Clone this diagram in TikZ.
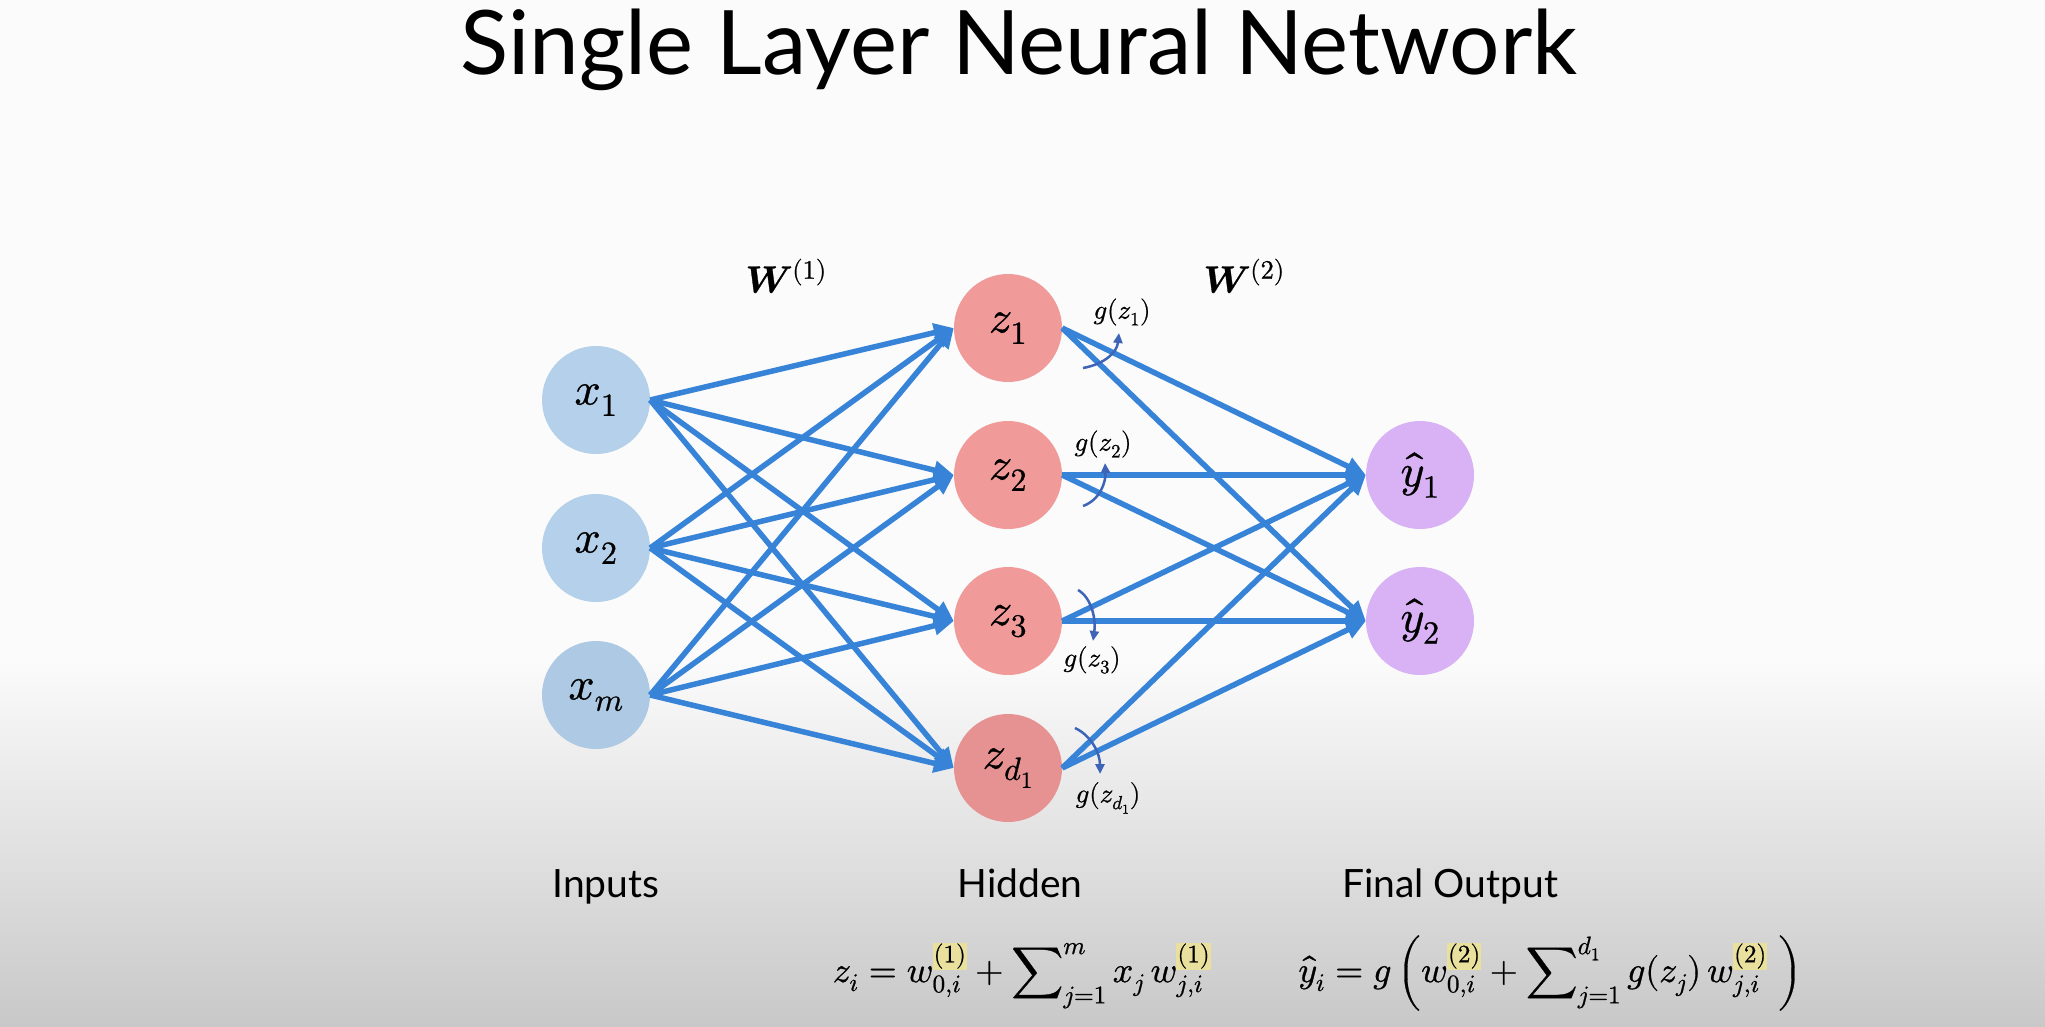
\documentclass[tikz,border=0pt]{standalone}
\usepackage{fontspec}
\usepackage{unicode-math}
\setmainfont{Lato}
\setmathfont{Latin Modern Math}[FakeBold=0.8]
\usetikzlibrary{arrows.meta}
\definecolor{bgtop}{HTML}{FAFBFA}
\definecolor{bgmid}{HTML}{E3E4E2}
\definecolor{bgbot}{HTML}{C8C8C8}
\definecolor{inblue}{HTML}{B4D0EA}
\definecolor{inbluedk}{HTML}{ADC9E4}
\definecolor{hidred}{HTML}{F09A9A}
\definecolor{hidreddk}{HTML}{E69292}
\definecolor{outpurple}{HTML}{D9B2F5}
\definecolor{edgeblue}{HTML}{3683D8}
\definecolor{garrow}{HTML}{3E64B8}
\definecolor{hlyellow}{HTML}{E8E09C}
\newcommand\hlsup[1]{{\setlength{\fboxsep}{1pt}\colorbox{hlyellow}{$\scriptstyle #1$}}}
\begin{document}
\begin{tikzpicture}[x=1pt,y=-1pt,
  neuron/.style={circle, minimum size=108pt, inner sep=0pt, font=\fontsize{46}{46}\selectfont},
  inp/.style={neuron, fill=inblue},
  hid/.style={neuron, fill=hidred},
  outn/.style={neuron, fill=outpurple},
  wire/.style={line width=5.5pt, draw=edgeblue, -{Triangle[length=20pt,width=18pt]}},
  gar/.style={line width=2.5pt, draw=garrow, -{Triangle[length=10pt,width=9pt]}},
  glab/.style={font=\fontsize{27}{27}\selectfont, inner sep=0pt},
  wlab/.style={font=\fontsize{38}{38}\selectfont, inner sep=0pt},
  lay/.style={font=\fontsize{39}{39}\selectfont, anchor=base, inner sep=0pt},
  form/.style={font=\fontsize{36}{36}\selectfont, anchor=base, inner sep=0pt}
]
\useasboundingbox (0,0) rectangle (2045,1026);
\fill[bgtop] (0,0) rectangle (2045,661);
\shade[top color=bgtop, middle color=bgmid, bottom color=bgbot] (0,660) rectangle (2045,1026);

\node[anchor=base, font=\fontsize{89}{89}\selectfont, inner sep=0pt] (title) at (1019,74) {Single Layer Neural Network};

\node[inp] (x1) at (596,400) {$x_1$};
\node[inp] (x2) at (596,548) {$x_2$};
\node[inp, fill=inbluedk] (xm) at (596,695) {$x_m$};
\node[hid] (z1) at (1008,328) {$z_1$};
\node[hid] (z2) at (1008,475) {$z_2$};
\node[hid] (z3) at (1008,621) {$z_3$};
\node[hid, fill=hidreddk] (zd) at (1008,768) {$z_{d_1}$};
\node[outn] (y1) at (1420,475) {$\hat{y}_1$};
\node[outn] (y2) at (1420,621) {$\hat{y}_2$};

\foreach \s in {x1,x2,xm}
  \foreach \t in {z1,z2,z3,zd}
    \draw[wire] (\s.east) -- (\t.west);
\foreach \s in {z1,z2,z3,zd}
  \foreach \t in {y1,y2}
    \draw[wire] (\s.east) -- (\t.west);

\node[wlab] (w1) at (786,276) {$\symbfit{W}^{(1)}$};
\node[wlab] (w2) at (1244,276) {$\symbfit{W}^{(2)}$};

\node[glab] (g1) at (1122,312) {$g(z_1)$};
\node[glab] (g2) at (1103,444) {$g(z_2)$};
\node[glab] (g3) at (1092,660) {$g(z_3)$};
\node[glab] (gd) at (1108,798) {$g(z_{d_1})$};

\coordinate (g1s) at (1083,368); \coordinate (g1e) at (1119,333);
\coordinate (g2s) at (1083,506); \coordinate (g2e) at (1105,463);
\coordinate (g3s) at (1078,590); \coordinate (g3e) at (1093,641);
\coordinate (gds) at (1075,728); \coordinate (gde) at (1100,774);
\draw[gar] (g1s) .. controls (1105,364) and (1117,352) .. (g1e);
\draw[gar] (g2s) .. controls (1100,500) and (1106,482) .. (g2e);
\draw[gar] (g3s) .. controls (1092,598) and (1096,620) .. (g3e);
\draw[gar] (gds) .. controls (1092,736) and (1100,754) .. (gde);

\node[lay] (linp) at (606,897) {Inputs};
\node[lay] (lhid) at (1020,897) {Hidden};
\node[lay] (lout) at (1450,897) {Final Output};

\node[form] (f1) at (1022,982) {$z_i = w_{0,i}^{\hlsup{(1)}} + \displaystyle\sum\nolimits_{j=1}^{m} x_j\, w_{j,i}^{\hlsup{(1)}}$};
\node[form] (f2) at (1550,982) {$\hat{y}_i = g\left(w_{0,i}^{\hlsup{(2)}} + \displaystyle\sum\nolimits_{j=1}^{d_1} g(z_j)\, w_{j,i}^{\hlsup{(2)}}\;\right)$};
\end{tikzpicture}
\end{document}
